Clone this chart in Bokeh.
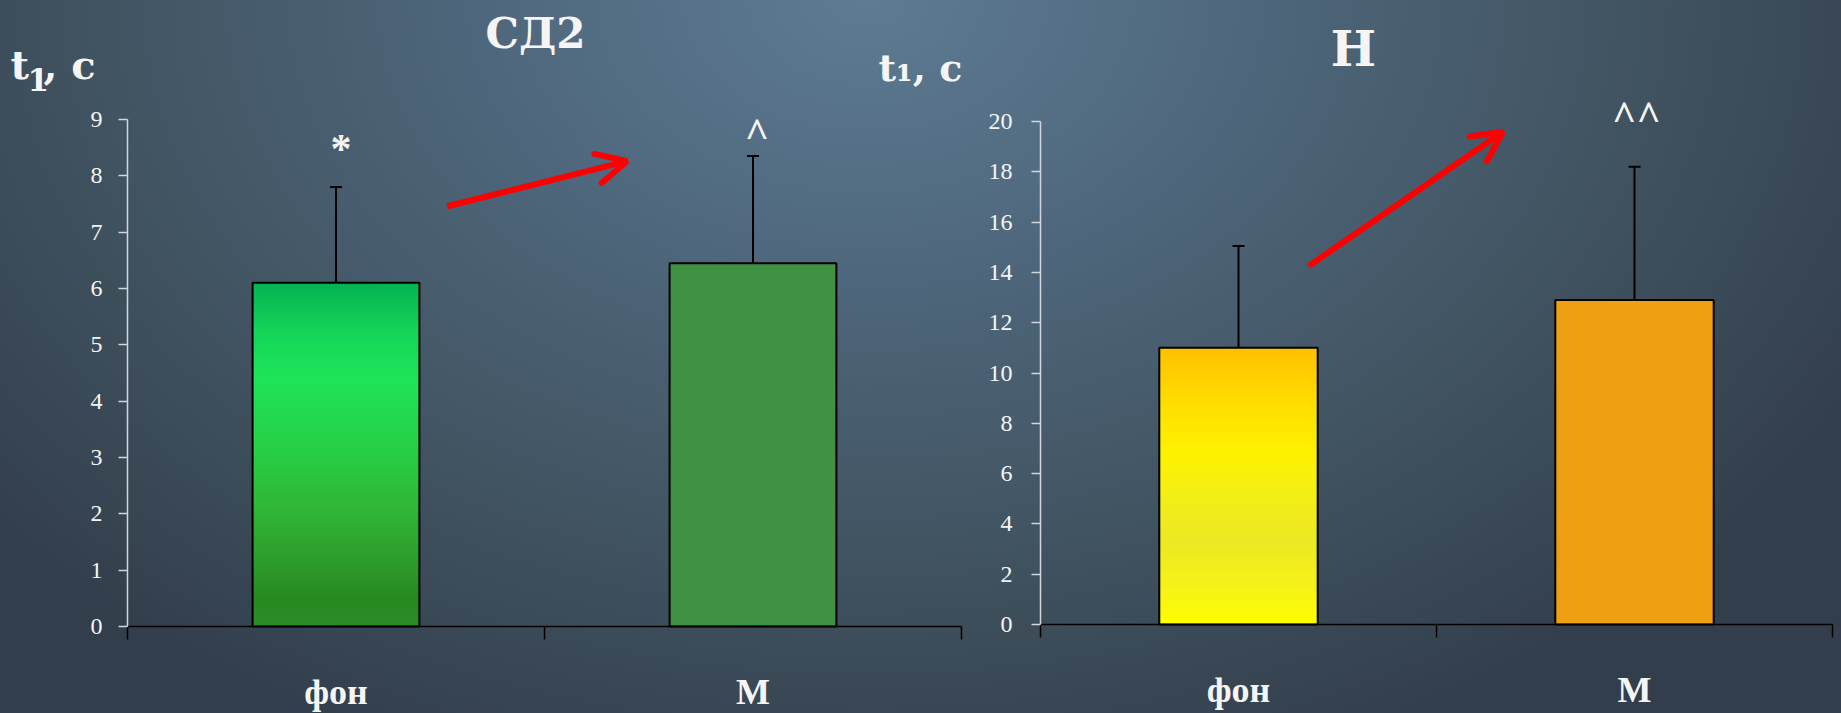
import numpy as np
from bokeh.plotting import figure
from bokeh.layouts import row
from bokeh.models import (ColumnDataSource, Range1d, LinearAxis, FixedTicker, Whisker, TeeHead,
                          Label, LabelSet, Arrow, OpenHead, GlobalInlineStyleSheet)
from bokeh.embed import file_html
from bokeh.resources import INLINE

# ---------------- data ----------------
categories = ["фон", "М"]

sd2_title = "СД2"
sd2_mean = [6.1, 6.45]
sd2_upper = [7.8, 8.35]
sd2_marks = ["*", "^"]
sd2_ticks = [0, 1, 2, 3, 4, 5, 6, 7, 8, 9]

n_title = "Н"
n_mean = [11.0, 12.9]
n_upper = [15.05, 18.2]
n_marks = ["", "^^"]
n_ticks = [0, 2, 4, 6, 8, 10, 12, 14, 16, 18, 20]

# ---------------- styles / layout ----------------
H = 713
SERIF = "DejaVu Serif"
TICK_FONT = "Liberation Serif"
WHITE = "#f5f5f5"
BAR_W = 0.4

GREEN_STOPS = [(0.0, (44, 140, 42)), (0.08, (38, 137, 33)), (0.18, (44, 155, 42)),
               (0.35, (48, 183, 56)), (0.5, (40, 205, 68)), (0.72, (31, 228, 88)),
               (0.85, (22, 214, 90)), (1.0, (3, 178, 80))]
YELLOW_STOPS = [(0.0, (255, 255, 0)), (0.12, (246, 243, 22)), (0.3, (236, 232, 36)),
                (0.45, (242, 238, 24)), (0.62, (255, 242, 0)), (0.78, (255, 224, 0)),
                (1.0, (255, 192, 0))]


def gradient_image(stops, n=256):
    fr = np.linspace(0.0, 1.0, n)
    pos = [s[0] for s in stops]
    cols = np.array([s[1] for s in stops], dtype=float)
    img = np.empty((n, 1), dtype=np.uint32)
    view = img.view(dtype=np.uint8).reshape((n, 1, 4))
    for k in range(3):
        view[:, 0, k] = np.round(np.interp(fr, pos, cols[:, k])).astype(np.uint8)
    view[:, 0, 3] = 255
    return img


def make_chart(fig_x0, fig_x1, plot_px, ymax, ticks, means, uppers, marks, mark_dx, mark_dy,
               grad_stops, solid_color, label_standoff, cat_y):
    # plot_px: page pixels of (x=0, x=ncat, y=0, y=ymax)
    px0, px1, py0, py1 = plot_px
    ncat = len(categories)
    sx = (px1 - px0) / ncat
    sy = (py0 - py1) / ymax
    xr = Range1d((fig_x0 - px0) / sx, ncat + (fig_x1 - px1) / sx)
    yr = Range1d(-(H - py0) / sy, ymax + py1 / sy)
    p = figure(width=fig_x1 - fig_x0, height=H, x_range=xr, y_range=yr,
               output_backend="svg", toolbar_location=None,
               x_axis_type=None, y_axis_type=None, min_border=0)
    p.background_fill_color = None
    p.border_fill_color = None
    p.outline_line_color = None

    yax = LinearAxis(ticker=FixedTicker(ticks=ticks), fixed_location=0, bounds=(0, ymax),
                     axis_line_color="#d3d7dc", axis_line_width=1.5,
                     major_tick_line_color="#d3d7dc", major_tick_line_width=1.5,
                     major_tick_in=0, major_tick_out=9, minor_tick_line_color=None,
                     major_label_standoff=label_standoff,
                     major_label_text_font=TICK_FONT, major_label_text_font_size="24px",
                     major_label_text_color=WHITE)
    p.add_layout(yax, "left")
    xax = LinearAxis(ticker=FixedTicker(ticks=[], minor_ticks=list(range(ncat + 1))),
                     fixed_location=0, bounds=(0, ncat),
                     axis_line_color="black", axis_line_width=1.5,
                     major_tick_in=0, major_tick_out=0, major_tick_line_color=None,
                     minor_tick_in=0, minor_tick_out=13, minor_tick_line_color="black",
                     minor_tick_line_width=1.5, major_label_text_color=None)
    p.add_layout(xax, "below")

    xs = [i + 0.5 for i in range(ncat)]
    src = ColumnDataSource(dict(x=xs, top=means, upper=uppers, cat=categories, mark=marks,
                                dx=mark_dx, dy=mark_dy,
                                fill=["#000000", solid_color], alpha=[0.0, 1.0]))
    # gradient-filled first bar
    p.image_rgba(image=[gradient_image(grad_stops)], x=xs[0] - BAR_W / 2, y=0,
                 dw=BAR_W, dh=means[0])
    p.vbar(x="x", top="top", bottom=0, width=BAR_W, source=src, fill_color="fill",
           fill_alpha="alpha", line_color="black", line_width=2)

    p.add_layout(Whisker(source=src, base="x", lower="top", upper="upper", dimension="height",
                         line_color="black", line_width=2,
                         upper_head=TeeHead(size=12, line_color="black", line_width=2),
                         lower_head=None))

    p.add_layout(LabelSet(x="x", y="upper", text="mark", source=src, x_offset="dx", y_offset="dy",
                          text_align="center", text_baseline="alphabetic",
                          text_font="Liberation Sans", text_font_style="bold",
                          text_font_size="42px", text_color=WHITE))

    p.add_layout(LabelSet(x="x", y=cat_y, y_units="screen", text="cat", source=src,
                          text_align="center", text_baseline="alphabetic",
                          text_font=SERIF, text_font_style="bold",
                          text_font_size="36px", text_color=WHITE))
    return p


# left chart: axes page x 127..961, y 626 (0) .. 119 (9)
p1 = make_chart(0, 975, (127, 961, 626, 119), 9, sd2_ticks, sd2_mean, sd2_upper, sd2_marks,
                [5, 4], [24, 9], GREEN_STOPS, "#409144", 16, H - 703)
# right chart: axes page x 1040..1832, y 624 (0) .. 121 (20)
p2 = make_chart(975, 1841, (1040, 1832, 624, 121), 20, n_ticks, n_mean, n_upper, n_marks,
                [0, 2], [0, 37], YELLOW_STOPS, "#eea012", 19, H - 701)


def txt(p, fig_x0, text, page_x, baseline_y, size, align="left"):
    # Label places its text slightly low; compensate by ~0.345 em
    shift = 0.345 * size
    p.add_layout(Label(x=page_x - fig_x0, y=H - (baseline_y - shift), x_units="screen",
                       y_units="screen", text=text, text_font=SERIF, text_font_style="bold",
                       text_font_size="%dpx" % size, text_color=WHITE, text_align=align,
                       text_baseline="alphabetic"))


# titles and axis names
txt(p1, 0, sd2_title, 535, 47, 42, "center")
txt(p1, 0, "t", 10, 78, 40)
txt(p1, 0, "1", 27, 90, 31)
txt(p1, 0, ", c", 43, 78, 40)
txt(p1, 0, "t₁, c", 878, 80, 38)
txt(p2, 975, n_title, 1353, 65, 48, "center")

# red trend arrows
for p, (xs0, ys0, xe, ye) in ((p1, (0.767, 7.46, 1.198, 8.26)), (p2, (0.677, 14.25, 1.168, 19.59))):
    p.add_layout(Arrow(x_start=xs0, y_start=ys0, x_end=xe, y_end=ye,
                       line_color="#ff0000", line_width=6,
                       end=OpenHead(size=30, line_color="#ff0000", line_width=6,
                                    line_cap="round")))

BG = ("radial-gradient(ellipse 62% 115% at 47% 0%, #5d7b93 0%, #4e667b 35%, "
      "#40525f 70%, #333e4c 100%)")
sheet = GlobalInlineStyleSheet(css="html, body { background: %s; background-attachment: fixed; "
                                   "min-height: 100vh; }" % BG)
layout = row(p1, p2, styles={"background": BG, "background-attachment": "fixed"},
             stylesheets=[sheet])

open("out.html", "w").write(file_html(layout, INLINE))
